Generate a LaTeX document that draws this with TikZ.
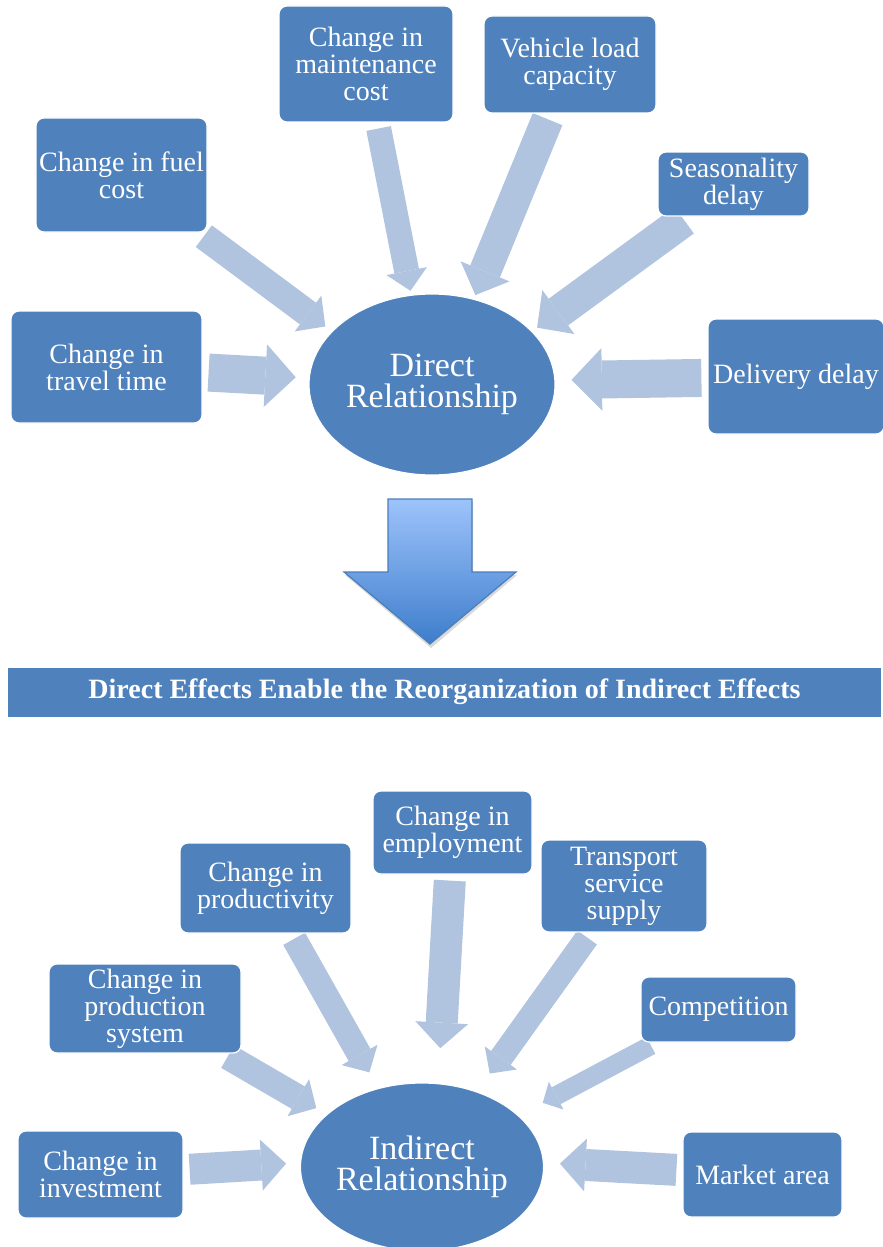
\documentclass[tikz,border=0pt]{standalone}
\usepackage{fontspec}
\setmainfont{Liberation Serif}
\usetikzlibrary{shapes,arrows.meta,positioning}
\definecolor{boxblue}{HTML}{4F81BD}
\definecolor{flowblue}{HTML}{B0C3DF}
\definecolor{downtop}{HTML}{9DC3FB}
\definecolor{downbot}{HTML}{3E7DCB}
\definecolor{downline}{HTML}{4A7EBB}
\pgfdeclarelayer{bg}
\pgfsetlayers{bg,main}
\tikzset{basic/.style={fill=boxblue,draw=white,line width=0.6pt,text=white,align=center,inner sep=1pt}}
\tikzset{factor/.style={basic,rectangle,rounded corners=4pt,font=\fontsize{14}{13.5}\selectfont}}
\tikzset{hub/.style={basic,ellipse,inner sep=0pt,font=\fontsize{17}{15.5}\selectfont}}
\tikzset{flow/.style={draw=flowblue,line width=#1,shorten <=3pt,-{Triangle[length=0pt 0.8,width=0pt 1.65,line width=0pt]}}}
\tikzset{banner/.style={fill=boxblue,text=white,minimum width=436.5pt,minimum height=24.5pt,font=\fontsize{14}{16}\selectfont\bfseries}}

\begin{document}
\begin{tikzpicture}[x=0.5pt,y=-0.5pt]
    \useasboundingbox (0,0) rectangle (883,1247);

    % direct effects
    \node[hub,minimum width=123pt,minimum height=90.5pt] (direct) at (432,384.5) {Direct\\Relationship};

    \node[factor,minimum width=85.5pt,minimum height=57pt] (fuel) at (121.5,175) {Change in fuel\\cost};
    \node[factor,minimum width=87pt,minimum height=58pt] (maint) at (366,64) {Change in\\maintenance\\cost};
    \node[factor,minimum width=86pt,minimum height=48.5pt] (load) at (570,64.5) {Vehicle load\\capacity};
    \node[factor,minimum width=75.5pt,minimum height=32pt] (season) at (733.5,184) {Seasonality\\delay};
    \node[factor,minimum width=95.5pt,minimum height=56pt] (travel) at (106.5,367) {Change in\\travel time};
    \node[factor,minimum width=88pt,minimum height=57.5pt] (delivery) at (796,376.5) {Delivery delay};

    \begin{pgfonlayer}{bg}
        \draw[flow=13.5pt,shorten >=4pt] (fuel) -- (direct.152);
        \draw[flow=12.5pt,shorten >=2pt] (maint) -- (direct.103);
        \draw[flow=16pt,shorten >=2pt] (load) -- (direct.64);
        \draw[flow=16.5pt,shorten >=3pt] (season) -- (direct.28);
        \draw[flow=19pt,shorten >=6.5pt] (travel) -- (direct.177);
        \draw[flow=19pt,shorten >=8pt] (delivery) -- (direct.2);
    \end{pgfonlayer}

    % big arrow down
    \fill[black!15] (389,502) -- (473,502) -- (473,575) -- (517,575) -- (431,648) -- (345,575) -- (389,575) -- cycle;
    \shade[top color=downtop,bottom color=downbot,draw=downline,line width=0.6pt] (388,499) -- (472,499) -- (472,572) -- (516,572) -- (430,644) -- (344,572) -- (388,572) -- cycle;

    \node[banner] (enable) at (444.5,692) {Direct Effects Enable the Reorganization of Indirect Effects};

    % indirect effects
    \node[hub,minimum width=121pt,minimum height=84pt] (indirect) at (422,1167) {Indirect\\Relationship};

    \node[factor,minimum width=79.5pt,minimum height=41.5pt] (employ) at (452.5,832.5) {Change in\\employment};
    \node[factor,minimum width=85.5pt,minimum height=45pt] (product) at (265.5,888) {Change in\\productivity};
    \node[factor,minimum width=83pt,minimum height=46pt] (supply) at (624,886) {Transport\\service\\supply};
    \node[factor,minimum width=96pt,minimum height=44.5pt] (system) at (145,1008.5) {Change in\\production\\system};
    \node[factor,minimum width=77.5pt,minimum height=32.5pt] (compet) at (718.5,1009.5) {Competition};
    \node[factor,minimum width=82.5pt,minimum height=43.5pt] (invest) at (100.5,1174.5) {Change in\\investment};
    \node[factor,minimum width=79.5pt,minimum height=42.5pt] (market) at (762.5,1174.5) {Market area};

    \begin{pgfonlayer}{bg}
        \draw[flow=13pt,shorten >=6pt] (system) -- (indirect.151);
        \draw[flow=12.5pt,shorten >=9pt] (product) -- (indirect.119);
        \draw[flow=16pt,shorten >=17.5pt] (employ) -- (indirect.79);
        \draw[flow=12pt,shorten >=11pt] (supply) -- (indirect.54);
        \draw[flow=9.5pt,shorten >=13.5pt] (compet) -- (indirect.28);
        \draw[flow=15.5pt,shorten >=7pt] (invest) -- (indirect.178);
        \draw[flow=16pt,shorten >=8pt] (market) -- (indirect.2);
    \end{pgfonlayer}
\end{tikzpicture}
\end{document}
